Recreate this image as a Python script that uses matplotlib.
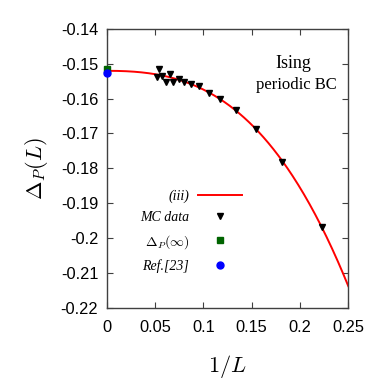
import numpy as np
import matplotlib
matplotlib.use("Agg")
import matplotlib.pyplot as plt
from matplotlib import font_manager
from matplotlib.ticker import FormatStrFormatter, FixedLocator

# ---- data ----
mc_invL = [0.0543, 0.0519, 0.0577, 0.0612, 0.0650, 0.0691, 0.0747, 0.0805,
           0.0871, 0.0957, 0.1054, 0.1175, 0.1338, 0.1546, 0.1819, 0.2223]
mc_delta = [-0.1515, -0.1538, -0.1535, -0.1553, -0.1529, -0.1553, -0.1544, -0.1552,
            -0.1557, -0.1564, -0.1584, -0.1602, -0.1633, -0.1688, -0.1783, -0.1968]
inf_x = [0.0]
inf_y = [-0.1515]
ref_x = [0.0]
ref_y = [-0.1525]
# fit (iii): Delta(1/L) = c0 + c2 x^2 + c3 x^3
fit_coef = [-0.152, 0.0, -0.238, -3.007]  # c0, c1, c2, c3
xticks = [0, 0.05, 0.1, 0.15, 0.2, 0.25]
yticks = [-0.22, -0.21, -0.2, -0.19, -0.18, -0.17, -0.16, -0.15, -0.14]

names = {f.name for f in font_manager.fontManager.ttflist}
sans = "Liberation Sans Narrow" if "Liberation Sans Narrow" in names else "Liberation Sans"
tick_fs = 14 if sans == "Liberation Sans Narrow" else 11.8

plt.rcParams["axes.unicode_minus"] = False
plt.rcParams["mathtext.fontset"] = "cm"

fig = plt.figure(figsize=(3.74, 3.82), dpi=100)
ax = fig.add_axes([0.2853, 0.195, 0.6460, 0.729])

xs = np.linspace(0, 0.25, 300)
ys = np.polyval(fit_coef[::-1], xs)
ax.plot(xs, ys, color="#ff0000", lw=1.4, label="(iii)", zorder=2)
ax.plot(mc_invL, mc_delta, ls="none", marker="v", ms=5, color="black",
        label="MC data", zorder=3)
ax.plot(inf_x, inf_y, ls="none", marker="s", ms=5, color="#006400",
        label=r"$\Delta_P(\infty)$", zorder=4, clip_on=False)
ax.plot(ref_x, ref_y, ls="none", marker="o", ms=5, color="#0000ff",
        label="Ref.[23]", zorder=5, clip_on=False)

ax.set_xlim(0, 0.25)
ax.set_ylim(-0.22, -0.14)
ax.xaxis.set_major_locator(FixedLocator(xticks))
ax.yaxis.set_major_locator(FixedLocator(yticks))
ax.xaxis.set_major_formatter(FormatStrFormatter("%g"))
ax.yaxis.set_major_formatter(FormatStrFormatter("%g"))
ax.tick_params(direction="in", top=True, right=True, length=4, width=0.8,
               color="#404040")
ax.tick_params(axis="x", pad=9)
ax.tick_params(axis="y", pad=6)
for lab in ax.get_xticklabels() + ax.get_yticklabels():
    lab.set_fontfamily(sans)
    lab.set_fontsize(tick_fs)
for s in ax.spines.values():
    s.set_color("#404040")
    s.set_linewidth(1.0)

ax.set_xlabel(r"$1/L$", fontsize=16)
ax.set_ylabel(r"$\Delta_P(L)$", fontsize=16)
ax.xaxis.label.set_va("center")
ax.yaxis.label.set_va("center")
ax.xaxis.set_label_coords(0.5, -0.213)
ax.yaxis.set_label_coords(-0.292, 0.5)

ax.text(0.771, 0.878, "Ising", transform=ax.transAxes, ha="center", va="center",
        fontfamily="Liberation Serif", fontsize=13)
ax.text(0.784, 0.799, "periodic BC", transform=ax.transAxes, ha="center",
        va="center", fontfamily="Liberation Serif", fontsize=12)

leg = ax.legend(loc="center right", bbox_to_anchor=(242 / 374, 1 - 231 / 382),
                bbox_transform=fig.transFigure, frameon=False, markerfirst=False,
                alignment="right", handlelength=3.2, handletextpad=0.6,
                borderpad=0, borderaxespad=0, labelspacing=0.62,
                prop={"family": "Liberation Serif", "style": "italic", "size": 10})

fig.savefig("out.png", dpi=100)
